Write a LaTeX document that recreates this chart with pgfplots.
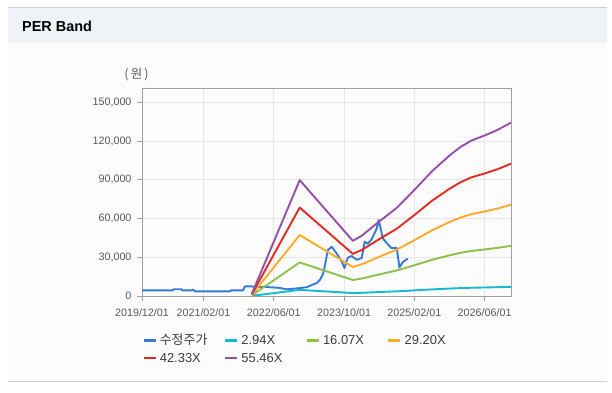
\documentclass[border=0pt]{standalone}
\usepackage{pgfplots}
\pgfplotsset{compat=1.18}
\usepackage{fontspec}
\setmainfont{Liberation Sans}
\newfontfamily\kr{Noto Sans CJK KR}
\definecolor{cprice}{RGB}{52,122,214}
\definecolor{ccyan}{RGB}{22,185,210}
\definecolor{cgreen}{RGB}{139,194,74}
\definecolor{corange}{RGB}{255,170,40}
\definecolor{cred}{RGB}{226,44,34}
\definecolor{cpurple}{RGB}{148,80,168}
\definecolor{titlebg}{RGB}{239,242,247}
\definecolor{panelbg}{RGB}{252,252,252}
\definecolor{linegray}{RGB}{208,208,208}
\definecolor{gridgray}{RGB}{230,230,230}
\definecolor{axisgray}{RGB}{160,160,160}
\definecolor{ticktext}{RGB}{90,90,90}
\definecolor{legtext}{RGB}{60,60,60}

\pgfplotstableread{
m v
0 4300
7.0 4300
7.2 5200
9.0 5200
9.2 4300
11.3 4300
11.5 5000
11.9 4300
12.1 3600
20.0 3600
20.2 4300
23.0 4300
23.4 7400
25.0 7400
26 6800
28 7000
31 6400
33 5200
35 5800
37.5 6800
39 9000
39.8 10000
40.5 12500
41.2 17000
41.6 22700
42.3 35600
43.2 38100
44.3 33000
45.5 26500
46.1 21600
46.8 29400
47.7 31000
48.9 28000
50.0 29400
50.7 42000
51.4 40500
52.3 44000
53.4 52000
53.9 58800
54.8 44800
55.7 41000
56.8 37100
58.0 37100
58.6 22000
59.3 26000
60.5 29000
}\price

\pgfplotstableread{
m cyan green orange red purple
25 88 482 876 1270 1664
35.9 4754 25985 47216 68448 89679
48 2264 12374 22484 32594 42704
50 2470 13499 24528 35557 46586
54 3058 16713 30368 44023 57678
58 3616 19766 35916 52066 68216
62 4351 23784 43216 62648 82081
66 5116 27962 50808 73654 96500
70 5762 31497 57232 82967 108702
72.5 6115 33426 60736 88046 115353
75 6380 34872 63364 91856 120348
78 6586 35997 65408 94819 124230
81 6821 37282 67744 98206 128667
84 7115 38889 70664 102439 134213
}\bands

\begin{document}
\begin{tikzpicture}
\fill[white] (0,0) rectangle (612bp,393bp);
\fill[panelbg] (8bp,12bp) rectangle (607bp,350bp);
\fill[titlebg] (8bp,350bp) rectangle (607bp,385.5bp);
\draw[linegray, line width=1.2bp] (8bp,385.5bp) -- (607bp,385.5bp);
\draw[linegray, line width=1.2bp] (8bp,11.5bp) -- (607bp,11.5bp);
\node[anchor=west, font=\fontsize{14.5}{16}\selectfont\bfseries, inner sep=0] at (22bp,367bp) {PER Band};
\node[font=\fontsize{12.5}{14}\selectfont, text=ticktext, inner sep=0] at (136.5bp,318bp) {\kr (\,원\,)};
\begin{axis}[
  at={(142bp,97bp)}, anchor=south west,
  scale only axis, width=369bp, height=208bp,
  xmin=0, xmax=84, ymin=0, ymax=161000,
  scaled y ticks=false,
  xtick={0,14,30,46,62,78},
  xticklabels={2019/12/01,2021/02/01,2022/06/01,2023/10/01,2025/02/01,2026/06/01},
  ytick={0,30000,60000,90000,120000,150000},
  yticklabels={0,{30,000},{60,000},{90,000},{120,000},{150,000}},
  grid=major, major grid style={gridgray, line width=0.8bp},
  axis line style={axisgray, line width=0.8bp},
  tick align=outside, major tick length=5bp,
  tick style={axisgray, line width=0.8bp},
  xtick pos=bottom, ytick pos=left,
  ticklabel style={font=\fontsize{10.8}{12}\selectfont, text=ticktext},
  xticklabel style={yshift=-4.5bp},
  yticklabel style={xshift=-2bp},
  legend columns=4,
  legend cell align=left,
  legend style={at={(0.0,-0.178)}, anchor=north west, draw=none, fill=none,
    inner sep=0pt, font=\fontsize{13}{15}\selectfont, text=legtext,
    nodes={inner sep=1bp},
    row sep=3.5bp,
    /tikz/every odd column/.append style={column sep=2bp},
    /tikz/every even column/.append style={column sep=6bp}},
  legend image code/.code={\draw[line width=2.6bp] (0bp,0bp) -- (12bp,0bp);},
  every axis plot/.append style={line width=1.9bp, line join=round},
]
\addplot[cprice] table[x=m, y=v] {\price};
\addlegendentry{\makebox[57bp][l]{\strut\kr 수정주가}}
\addplot[ccyan] table[x=m, y=cyan] {\bands};
\addlegendentry{\makebox[57bp][l]{\strut 2.94X}}
\addplot[cgreen] table[x=m, y=green] {\bands};
\addlegendentry{\makebox[57bp][l]{\strut 16.07X}}
\addplot[corange] table[x=m, y=orange] {\bands};
\addlegendentry{\makebox[57bp][l]{\strut 29.20X}}
\addplot[cred] table[x=m, y=red] {\bands};
\addlegendentry{\makebox[57bp][l]{\strut 42.33X}}
\addplot[cpurple] table[x=m, y=purple] {\bands};
\addlegendentry{\makebox[57bp][l]{\strut 55.46X}}
\end{axis}
\end{tikzpicture}
\end{document}
